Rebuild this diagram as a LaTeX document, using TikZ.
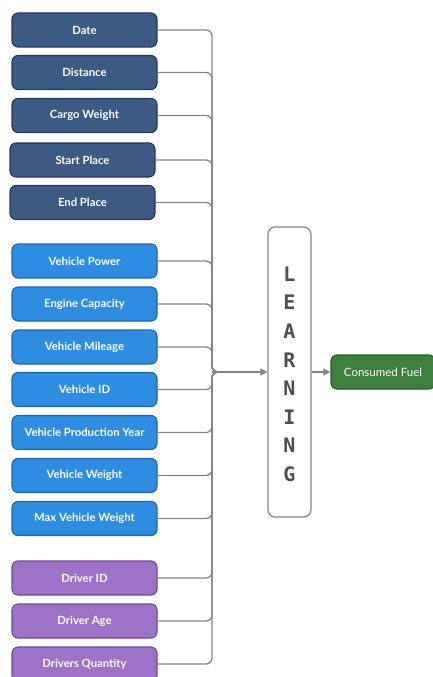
\documentclass[tikz,border=0pt]{standalone}
\usepackage{fontspec}
\setmainfont{Lato}
\newfontfamily\letterfont{DejaVu Sans Mono}
\usetikzlibrary{arrows.meta}
\definecolor{dkblue}{HTML}{3C5A84}
\definecolor{dkblueb}{HTML}{25395A}
\definecolor{ltblue}{HTML}{2E8DE0}
\definecolor{ltblueb}{HTML}{1E66A8}
\definecolor{purp}{HTML}{9D72C9}
\definecolor{purpb}{HTML}{6E4A96}
\definecolor{grn}{HTML}{3F7F3F}
\definecolor{grnb}{HTML}{2A5A2A}
\definecolor{wire}{HTML}{858585}
\definecolor{lettc}{HTML}{4F4F4F}
\tikzset{
  feat/.style={rounded corners=6pt, minimum width=145pt, minimum height=34pt,
    line width=1.1pt, text=white, font=\fontsize{11.3}{13}\selectfont\bfseries, inner sep=0pt},
  grpA/.style={feat, fill=dkblue, draw=dkblueb},
  grpB/.style={feat, fill=ltblue, draw=ltblueb},
  grpC/.style={feat, fill=purp, draw=purpb},
  wireline/.style={draw=wire, line width=1.3pt, rounded corners=6pt},
  arr/.style={draw=wire, line width=1.3pt, -{Triangle[length=7pt,width=7pt]}},
}
\begin{document}
\begin{tikzpicture}[x=1pt,y=1pt]
\useasboundingbox (0,0) rectangle (432,-677);
\node[grpA] (date) at (84.5,-30) {Date};
\node[grpA] (dist) at (84.5,-72.5) {Distance};
\node[grpA] (cargo) at (84.5,-115.5) {Cargo Weight};
\node[grpA] (start) at (82.5,-160) {Start Place};
\node[grpA] (end) at (82.5,-202.5) {End Place};
\node[grpB] (vpow) at (84.5,-261) {Vehicle Power};
\node[grpB] (eng) at (84.5,-304) {Engine Capacity};
\node[grpB] (mil) at (84.5,-347) {Vehicle Mileage};
\node[grpB] (vid) at (84.5,-389.5) {Vehicle ID};
\node[grpB] (vpy) at (84.5,-432.5) {Vehicle Production Year};
\node[grpB] (vw) at (84.5,-475.5) {Vehicle Weight};
\node[grpB] (mvw) at (84.5,-518.5) {Max Vehicle Weight};
\node[grpC] (did) at (84.5,-578) {Driver ID};
\node[grpC] (dage) at (84.5,-621) {Driver Age};
\node[grpC] (dq) at (84.5,-664) {Drivers Quantity};
\node[draw=wire, line width=1.2pt, fill=white, rounded corners=7pt,
  minimum width=43pt, minimum height=290pt, inner sep=0pt] (learn) at (289.5,-372) {};
\foreach \l [count=\i] in {L,E,A,R,N,I,N,G}
  \node[text=lettc, font=\letterfont\bfseries\fontsize{20}{20}\selectfont, inner sep=0pt] (lt\i) at (289.5,{-274-(\i-1)*28.6}) {\l};
\node[rounded corners=6pt, fill=grn, draw=grnb, line width=1.1pt, minimum width=104pt,
  minimum height=34pt, text=white, font=\fontsize{11.5}{13}\selectfont, inner sep=0pt] (fuel) at (383,-372) {Consumed Fuel};
\coordinate (j) at (212,-372);
\coordinate (k) at (258,-372);
\foreach \n in {date,dist,cargo,start,end,vpow,eng,mil,vid,vpy,vw,mvw,did,dage,dq}
  \draw[wireline] (\n.east) -| (j) -- (k);
\draw[arr] (j) -- (learn.west);
\draw[arr] (learn.east) -- (fuel.west);
\end{tikzpicture}
\end{document}
